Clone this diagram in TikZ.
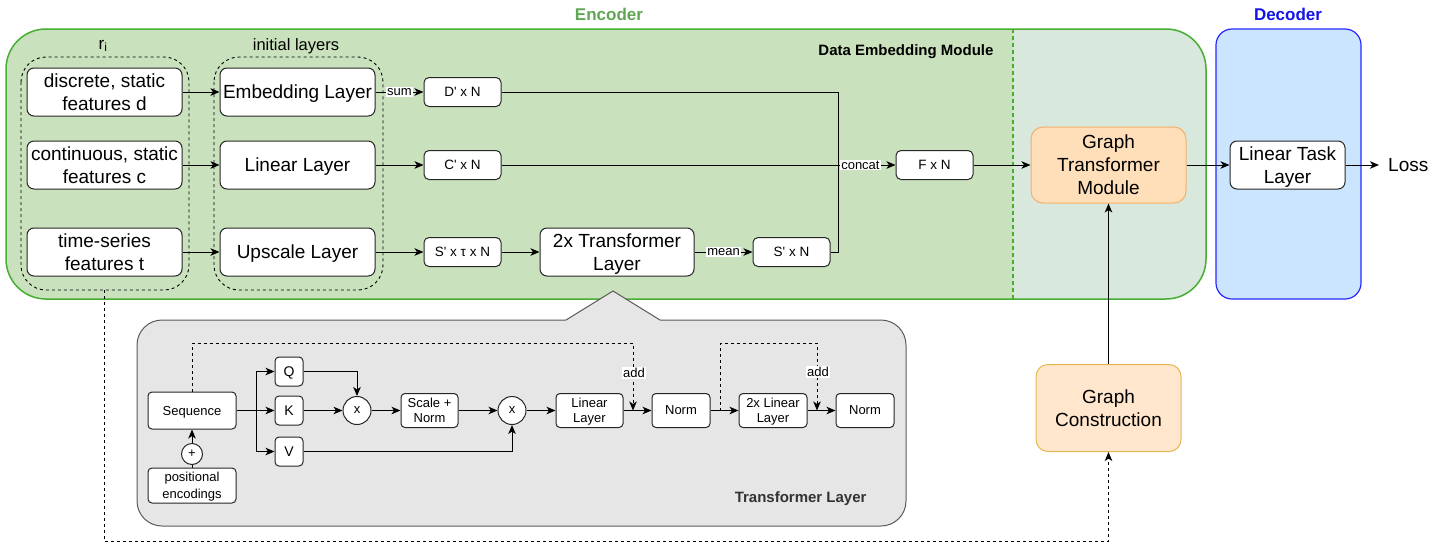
\documentclass[tikz,border=0pt]{standalone}
\usepackage{fontspec}
\setmainfont{Liberation Sans}
\usetikzlibrary{arrows.meta}
\definecolor{encgreen}{RGB}{70,175,50}
\definecolor{enclabel}{RGB}{96,166,84}
\definecolor{dembfill}{RGB}{201,225,188}
\definecolor{encfill}{RGB}{216,232,221}
\definecolor{decfill}{RGB}{204,229,255}
\definecolor{decstroke}{RGB}{40,40,255}
\definecolor{declabel}{RGB}{20,20,230}
\definecolor{gtmfill}{RGB}{255,223,185}
\definecolor{gtmstroke}{RGB}{245,175,105}
\definecolor{gcfill}{RGB}{255,230,204}
\definecolor{gcstroke}{RGB}{230,183,80}
\definecolor{tlfill}{RGB}{230,230,230}
\definecolor{tlstroke}{RGB}{90,90,90}
\tikzset{
 bbox/.style={draw=black!85, fill=white, rounded corners=7pt, line width=1pt, align=center, font=\fontsize{19}{23}\selectfont, inner sep=0pt, text depth=0pt},
 sbox/.style={draw=black!85, fill=white, rounded corners=5pt, line width=1pt, align=center, font=\fontsize{13.5}{16}\selectfont, minimum width=77pt, minimum height=29pt, inner sep=0pt, text depth=0pt},
 ibox/.style={draw=black!85, fill=white, rounded corners=4pt, line width=1pt, align=center, font=\fontsize{13}{15.5}\selectfont, inner sep=0pt, text depth=0pt},
 circ/.style={draw=black!85, fill=white, circle, line width=1pt, font=\fontsize{13}{15}\selectfont, inner sep=0pt},
 conn/.style={line width=1pt, -{Stealth[length=9pt,width=7.5pt,inset=2.5pt]}},
 plain/.style={line width=1pt},
 dsh/.style={dash pattern=on 3pt off 3pt},
 elabel/.style={fill=white, inner sep=1pt, font=\fontsize{13}{15}\selectfont},
 grp/.style={dash pattern=on 3pt off 3pt, line width=0.9pt, rounded corners=25pt},
}
\begin{document}
\begin{tikzpicture}[x=1pt,y=-1pt]
\useasboundingbox (0,0) rectangle (1445,544);
% encoder
\fill[encfill, rounded corners=40pt] (6,29) rectangle (1206,299);
\fill[dembfill, rounded corners=40pt] (1013,29) -- (6,29) -- (6,299) -- (1013,299);
\draw[encgreen, line width=1.2pt, dash pattern=on 4pt off 3pt] (1013,29) -- (1013,299);
\draw[encgreen, line width=1.5pt, rounded corners=40pt] (6,29) rectangle (1206,299);
\node[font=\bfseries\fontsize{17}{20}\selectfont, text=enclabel] (enclab) at (609,14) {Encoder};
% decoder
\draw[decstroke, fill=decfill, line width=1.2pt, rounded corners=16pt] (1216,29) rectangle (1361,299);
\node[font=\bfseries\fontsize{17}{20}\selectfont, text=declabel] (declab) at (1288,14) {Decoder};
\node[font=\bfseries\fontsize{15}{18}\selectfont, anchor=east] (demlab) at (997,52) {Data Embedding Module};
% groups
\draw[grp] (21,57) rectangle (189,290);
\draw[grp] (214,57) rectangle (383,290);
\coordinate (rib) at (104,290);
\node[font=\fontsize{17}{20}\selectfont] (rilab) at (103,46) {r\textsubscript{i}};
\node[font=\fontsize{16.5}{20}\selectfont] (illab) at (296,46) {initial layers};
% inputs
\node[bbox, minimum width=155pt, minimum height=48pt] (fd) at (104.5,92) {discrete, static\\features d};
\node[bbox, minimum width=155pt, minimum height=48pt] (fc) at (104.5,165) {continuous, static\\features c};
\node[bbox, minimum width=155pt, minimum height=48pt] (ft) at (104.5,252) {time-series\\features t};
\node[bbox, minimum width=155pt, minimum height=48pt] (emb) at (297.5,92) {Embedding Layer};
\node[bbox, minimum width=155pt, minimum height=48pt] (lin) at (297.5,165) {Linear Layer};
\node[bbox, minimum width=155pt, minimum height=48pt] (ups) at (297.5,252) {Upscale Layer};
\node[sbox] (dn) at (462.5,92) {D\textquotesingle{} x N};
\node[sbox] (cn) at (462.5,165) {C\textquotesingle{} x N};
\node[sbox] (sn) at (462.5,252) {S\textquotesingle{} x τ x N};
\node[bbox, minimum width=154pt, minimum height=48pt] (tf) at (617,252) {2x Transformer\\Layer};
\node[sbox] (sn2) at (791.5,252) {S\textquotesingle{} x N};
\node[sbox] (fn) at (934.5,165) {F x N};
% right part
\node[bbox, rounded corners=12pt, fill=gtmfill, draw=gtmstroke, minimum width=155pt, minimum height=76pt] (gtm) at (1108.5,165) {Graph\\Transformer\\Module};
\node[bbox, rounded corners=12pt, fill=gcfill, draw=gcstroke, minimum width=145pt, minimum height=87pt] (gc) at (1108.5,408) {Graph\\Construction};
\node[bbox, minimum width=115pt, minimum height=48pt] (lt) at (1287.5,165) {Linear Task\\Layer};
\node[anchor=west, inner xsep=9pt, text depth=0pt, font=\fontsize{19}{23}\selectfont] (loss) at (1379,165) {Loss};
% connectors
\draw[conn] (fd.east) -- (emb.west);
\draw[conn] (fc.east) -- (lin.west);
\draw[conn] (ft.east) -- (ups.west);
\draw[conn] (emb.east) -- node[elabel]{sum} (dn.west);
\draw[conn] (lin.east) -- (cn.west);
\draw[conn] (ups.east) -- (sn.west);
\draw[conn] (sn.east) -- (tf.west);
\draw[conn] (tf.east) -- node[elabel]{mean} (sn2.west);
\coordinate (junc) at (838,165);
\draw[plain] (dn.east) -| (junc);
\draw[plain] (sn2.east) -| (junc);
\draw[conn] (cn.east) -- node[elabel, pos=0.911]{concat} (fn.west);
\draw[conn] (fn.east) -- (gtm.west);
\draw[conn] (gtm.east) -- (lt.west);
\draw[conn] (lt.east) -- (loss.west);
\draw[conn] (gc.north) -- (gtm.south);
\coordinate (botl) at (104,541);
\draw[conn, dsh, line width=0.9pt] (rib) -- (botl) -| (gc.south);
% transformer layer callout
\draw[tlstroke, fill=tlfill, line width=1pt, rounded corners=25pt] (137,320) rectangle (906,526);
\fill[tlfill] (566,320) -- (613,291) -- (660,320) -- (660,322) -- (566,322) -- cycle;
\draw[tlstroke, line width=1pt] (566,320) -- (613,291) -- (660,320);
\node[font=\bfseries\fontsize{15}{18}\selectfont, text=black!80, anchor=east] (tllab) at (870,499) {Transformer Layer};
\node[ibox, minimum width=88pt, minimum height=37pt] (seq) at (192,410.5) {Sequence};
\node[ibox, minimum width=88pt, minimum height=35pt, font=\fontsize{13}{16.5}\selectfont] (pe) at (192,485.5) {positional\\encodings};
\node[circ, minimum size=21pt] (plus) at (192,454) {+};
\node[ibox, minimum width=28pt, minimum height=29pt, font=\fontsize{14}{16}\selectfont] (q) at (289,371.5) {Q};
\node[ibox, minimum width=28pt, minimum height=29pt, font=\fontsize{14}{16}\selectfont] (k) at (289,410.5) {K};
\node[ibox, minimum width=28pt, minimum height=29pt, font=\fontsize{14}{16}\selectfont] (v) at (289,451.5) {V};
\node[circ, minimum size=28pt] (m1) at (357,410.5) {x};
\node[ibox, minimum width=57pt, minimum height=34pt] (sc) at (429.5,410.5) {Scale +\\Norm};
\node[circ, minimum size=28pt] (m2) at (512,410.5) {x};
\node[ibox, minimum width=67pt, minimum height=34pt] (ll) at (589.5,410.5) {Linear\\Layer};
\node[ibox, minimum width=58pt, minimum height=34pt] (n1) at (681,410.5) {Norm};
\node[ibox, minimum width=68pt, minimum height=34pt] (ll2) at (773,410.5) {2x Linear\\Layer};
\node[ibox, minimum width=58pt, minimum height=34pt] (n2) at (865,410.5) {Norm};
\draw[plain] (pe.north) -- (plus.south);
\draw[conn] (plus.north) -- (seq.south);
\coordinate (split) at (256,410.5);
\draw[plain] (seq.east) -- (split);
\draw[conn] (split) |- (q.west);
\draw[conn] (split) -- (k.west);
\draw[conn] (split) |- (v.west);
\draw[conn] (q.east) -| (m1.north);
\draw[conn] (k.east) -- (m1.west);
\draw[conn] (m1.east) -- (sc.west);
\draw[conn] (sc.east) -- (m2.west);
\draw[conn] (v.east) -| (m2.south);
\draw[conn] (m2.east) -- (ll.west);
\draw[conn] (ll.east) -- (n1.west);
\draw[conn] (n1.east) -- (ll2.west);
\draw[conn] (ll2.east) -- (n2.west);
\coordinate (add1) at (633,410.5);
\coordinate (add2) at (817,410.5);
\coordinate (skip2) at (720,410.5);
\coordinate (s1top) at (633,343);
\coordinate (s2top) at (817,343);
\draw[conn, dsh, line width=0.9pt] (seq.north) |- (s1top) -- (add1);
\draw[conn, dsh, line width=0.9pt] (skip2) |- (s2top) -- (add2);
\node[elabel] (addl1) at (634,373) {add};
\node[elabel] (addl2) at (818,372) {add};
\end{tikzpicture}
\end{document}
